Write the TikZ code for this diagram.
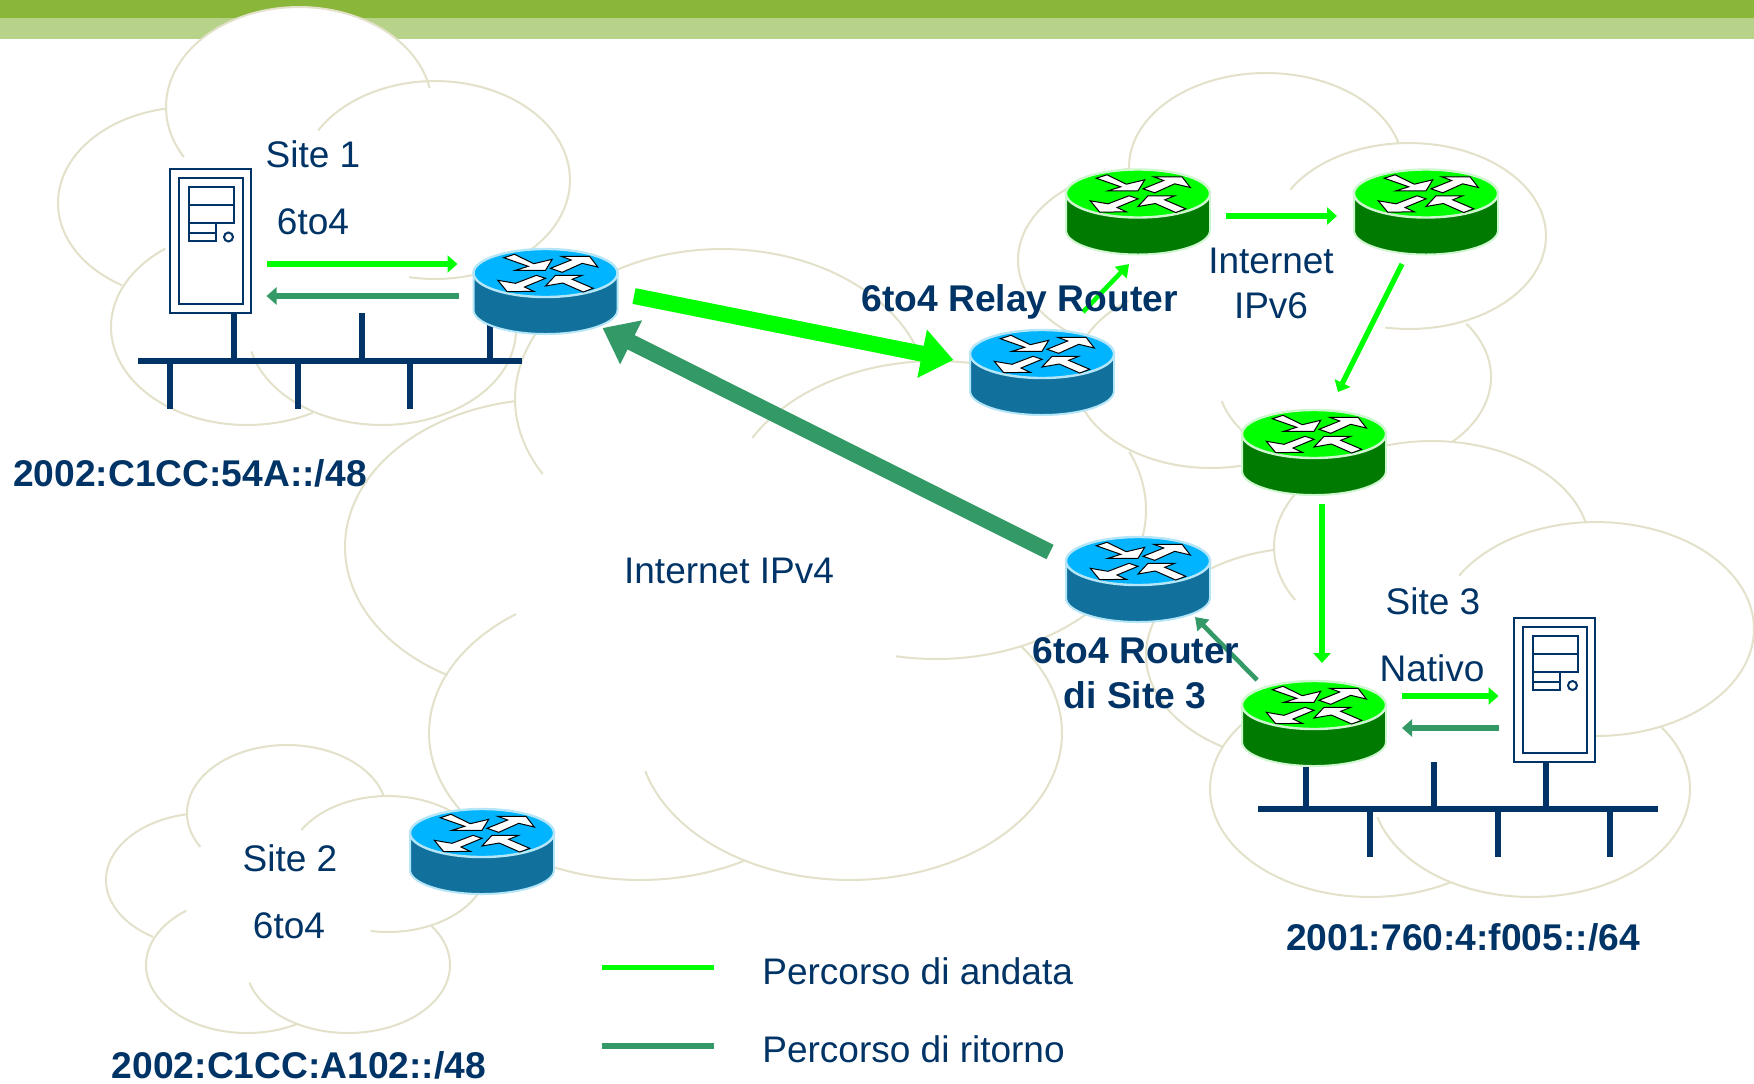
\documentclass[tikz,border=0pt]{standalone}
\usepackage{fontspec}
\setmainfont{Liberation Sans}
\usetikzlibrary{arrows.meta,calc}
\definecolor{navy}{HTML}{003366}
\definecolor{cloudc}{HTML}{E3E1CA}
\definecolor{fwd}{HTML}{00FF00}
\definecolor{back}{HTML}{339966}
\definecolor{barA}{HTML}{8AB73A}
\definecolor{barB}{HTML}{B6D389}
\definecolor{btop}{HTML}{00B4FF}
\definecolor{bside}{HTML}{11719C}
\definecolor{bedge}{HTML}{B5E6F8}
\definecolor{gtop}{HTML}{00FF00}
\definecolor{gside}{HTML}{007A00}
\definecolor{gedge}{HTML}{CFF7CF}
\tikzset{
  cloudline/.style={draw=cloudc,line width=1pt},
  lab/.style={text=navy,inner sep=0pt,anchor=base,font=\fontsize{18.5}{22}\selectfont,align=center},
  blab/.style={lab,font=\fontsize{18.6}{22}\selectfont\bfseries},
  smallarrow/.style={line width=2.6pt,-{Triangle[length=5pt,width=8.5pt]}},
  thinarrow/.style={line width=2.3pt,-{Triangle[length=6pt,width=8pt]}},
  bigarrow/.style={line width=8pt,-{Triangle[length=16pt,width=23.5pt]}},
  fwdc/.style={draw=fwd,fill=fwd},
  backc/.style={draw=back,fill=back},
  busline/.style={draw=navy,line width=2.6pt},
  srvline/.style={draw=navy,line width=1pt},
  rarrow/.style={draw=black,fill=white,line width=.5pt,line join=miter}
}
\newcommand\cloudarc[6]{\draw[cloudline] plot[domain=#5:#6,samples=70] ({#1+#3*cos(\x)},{#2+#4*sin(\x)});}
\newcommand\router[6]{%
  \coordinate (#1) at (#2,#3);
  \begin{scope}[shift={(#2,#3)}]
    \filldraw[fill=#5,draw=#6,line width=1pt] (-72,0) -- (-72,37)
      .. controls (-72,50) and (-40,61) .. (0,61)
      .. controls (40,61) and (72,50) .. (72,37) -- (72,0) -- cycle;
    \filldraw[fill=#4,draw=#6,line width=1.2pt] (0,0) ellipse [x radius=72,y radius=24];
    \draw[rarrow] (-41.7,-15.3) -- (-31,-18.7) -- (-11.7,-9.3) -- (6.7,-13.7) -- (0,-2.7) -- (-30,-2.7) -- (-17.3,-6.7) -- cycle;
    \draw[rarrow] (5,-4.7) -- (25.7,-13) -- (15.7,-16.7) -- (44,-16.7) -- (52.3,-6) -- (36.7,-9.7) -- (16.7,-.7) -- cycle;
    \draw[rarrow] (-47.7,7.3) -- (-30,10.3) -- (-9,2.3) -- (0,5.3) -- (-21,14) -- (-11.7,18.3) -- (-38.3,18.7) -- cycle;
    \draw[rarrow] (0,13) -- (10,2.3) -- (36.7,2.3) -- (26.7,6.3) -- (47.7,15.3) -- (37.7,19) -- (17.3,10) -- cycle;
  \end{scope}}
\newcommand\server[3]{%
  \coordinate (#1) at (#2,#3);
  \begin{scope}[shift={(#2,#3)}]
    \filldraw[srvline,fill=white] (-40.75,-72) rectangle (40.75,72);
    \draw[srvline] (-32,-63) rectangle (32,63);
    \draw[srvline] (-22,-54) rectangle (23,-18);
    \draw[srvline] (-22,-36) -- (23,-36);
    \draw[srvline] (-22,-18) rectangle (5,0);
    \draw[srvline] (-22,-8) -- (5,-8);
    \draw[srvline] (18,-4) circle [radius=4.5];
  \end{scope}}
\begin{document}
\begin{tikzpicture}[x=.5pt,y=-.5pt]
\useasboundingbox (0,0) rectangle (1754,1083);
\fill[white] (0,0) rectangle (1754,1083);
% top bars
\fill[barA] (0,0) rectangle (1754,18);
\fill[barB] (0,18) rectangle (1754,39);
\fill[white] (299,107) ellipse [x radius=133,y radius=100];
% site 1 cloud
\cloudarc{299}{107}{133}{100}{150}{349}
\cloudarc{435}{180}{135}{99}{210}{461}
\cloudarc{190}{203}{132}{96}{259}{121}
\cloudarc{247}{327}{136}{98}{233}{61}
\cloudarc{382}{330}{134}{95}{167}{-35}
% central cloud
\cloudarc{722}{399}{207}{150}{150}{343}
\cloudarc{936}{510}{210}{149}{209}{290}
\cloudarc{936}{510}{210}{149}{337}{461}
\cloudarc{550}{547}{205}{148}{260}{120}
\cloudarc{640}{733}{211}{147}{234}{60}
\cloudarc{850}{733}{212}{147}{165}{-36}
% site 2 cloud
\cloudarc{287}{813}{100}{68}{150}{345}
\cloudarc{388}{864}{100}{68}{210}{460}
\cloudarc{206}{880}{100}{67}{259}{122}
\cloudarc{247}{965}{101}{68}{233}{60}
\cloudarc{348}{965}{102}{68}{165}{-35}
% ipv6 cloud
\cloudarc{1266}{167}{137}{94}{150}{345}
\cloudarc{1409}{236}{137}{93}{210}{460}
\cloudarc{1155}{260}{137}{93}{259}{121}
\cloudarc{1211}{375}{137}{93}{233}{60}
\cloudarc{1354}{377}{137}{93}{165}{100}
\cloudarc{1354}{377}{137}{93}{44}{-35}
% site 3 cloud
\cloudarc{1432}{547}{158}{106}{150}{347}
\cloudarc{1596}{629}{158}{107}{210}{460}
\cloudarc{1304}{655}{158}{107}{259}{121}
\cloudarc{1370}{789}{160}{108}{233}{60}
\cloudarc{1531}{789}{159}{108}{165}{-35}
% buses
\coordinate (bus1w) at (138,361);
\coordinate (bus1e) at (522,361);
\coordinate (bus3w) at (1258,809);
\coordinate (bus3e) at (1658,809);
\draw[busline] (bus1w) -- (bus1e);
\draw[busline] (bus3w) -- (bus3e);
\foreach \d in {96,224,352} \draw[busline] ($(bus1w)+(\d,0)$) -- +(0,-48);
\foreach \d in {32,160,272} \draw[busline] ($(bus1w)+(\d,0)$) -- +(0,48);
\draw[busline] ($(bus3w)+(48,0)$) -- +(0,-42);
\foreach \d in {176,288} \draw[busline] ($(bus3w)+(\d,0)$) -- +(0,-47);
\foreach \d in {112,240,352} \draw[busline] ($(bus3w)+(\d,0)$) -- +(0,48);
% devices
\server{srv1}{210.5}{241}
\server{srv3}{1554.5}{689.5}
\router{r1}{545.5}{273}{btop}{bside}{bedge}
\router{relay}{1042}{354}{btop}{bside}{bedge}
\router{gA}{1138}{193.5}{gtop}{gside}{gedge}
\router{gB}{1426}{193.5}{gtop}{gside}{gedge}
\router{gC}{1314}{434}{gtop}{gside}{gedge}
\router{sixr}{1138}{561}{btop}{bside}{bedge}
\router{gD}{1314}{705}{gtop}{gside}{gedge}
\router{r2}{482}{833}{btop}{bside}{bedge}
% arrows
\draw[smallarrow,fwdc] ($(srv1)+(56,23)$) -- ($(r1)+(-88,-9)$);
\draw[smallarrow,backc] ($(r1)+(-87,23)$) -- ($(srv1)+(56,55)$);
\draw[bigarrow,fwdc] ($(r1)+(88.5,23)$) -- ($(relay)+(-88.5,6)$);
\draw[bigarrow,backc] ($(sixr)+(-88,-9)$) -- ($(r1)+(57,55)$);
\draw[thinarrow,fwdc] ($(relay)+(41,-42)$) -- ($(gA)+(-9,70.5)$);
\draw[smallarrow,fwdc] ($(gA)+(88,22.5)$) -- ($(gB)+(-89,22.5)$);
\draw[smallarrow,fwdc] ($(gB)+(-24,70.5)$) -- ($(gC)+(24,-42)$);
\draw[smallarrow,fwdc] ($(gC)+(8,70)$) -- ($(gD)+(8,-42)$);
\draw[thinarrow,backc] ($(gD)+(-57,-25)$) -- ($(sixr)+(57,56)$);
\draw[smallarrow,fwdc] ($(gD)+(88,-9)$) -- ($(srv3)+(-56,6.5)$);
\draw[smallarrow,backc] ($(srv3)+(-56,38.5)$) -- ($(gD)+(88,23)$);
% legend
\coordinate (lgAa) at (602,967.5);
\coordinate (lgAb) at (714,967.5);
\coordinate (lgBa) at (602,1046);
\coordinate (lgBb) at (714,1046);
\draw[draw=fwd,line width=2.6pt] (lgAa) -- (lgAb);
\draw[draw=back,line width=2.6pt] (lgBa) -- (lgBb);
% labels
\node[lab] (t1) at (313,167) {Site 1};
\node[lab] (t2) at (313,234) {6to4};
\node[blab] (t3) at (190,486) {2002:C1CC:54A::/48};
\node[blab] (t4) at (1019.5,311) {6to4 Relay Router};
\node[lab] (t5) at (1271,273) {Internet};
\node[lab] (t6) at (1271,318) {IPv6};
\node[lab] (t7) at (729,583) {Internet IPv4};
\node[blab] (t8) at (1136,663) {6to4 Router};
\node[blab] (t9) at (1135,708) {di Site 3};
\node[lab] (t10) at (1433,614) {Site 3};
\node[lab] (t11) at (1432,681) {Nativo};
\node[blab] (t12) at (1463,950) {2001:760:4:f005::/64};
\node[lab] (t13) at (290,871) {Site 2};
\node[lab] (t14) at (289,938) {6to4};
\node[blab] (t15) at (299,1078) {2002:C1CC:A102::/48};
\node[lab,anchor=base west] (t16) at (762,984) {Percorso di andata};
\node[lab,anchor=base west] (t17) at (762,1062) {Percorso di ritorno};
\end{tikzpicture}
\end{document}
